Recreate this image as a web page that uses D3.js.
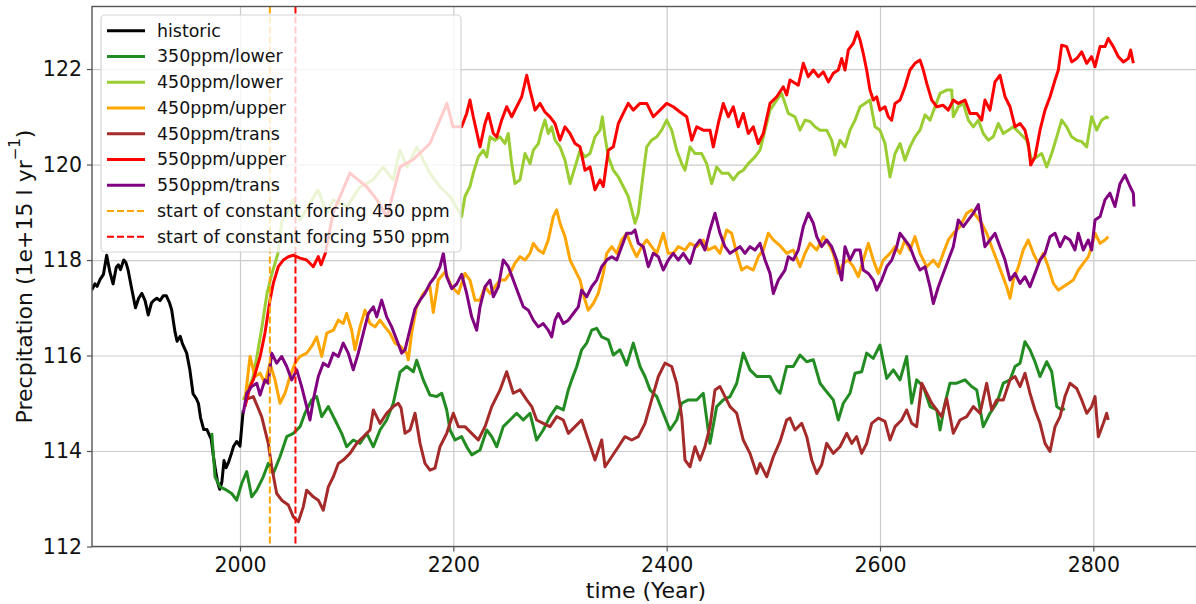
<!DOCTYPE html>
<html>
<head>
<meta charset="utf-8">
<script src="https://cdn.jsdelivr.net/npm/d3@7"></script>
<style>
  body { margin: 0; background: #fff; }
  svg { font-family: "DejaVu Sans", sans-serif; display: block; }
</style>
</head>
<body>
<div class="chart"></div>
<script>
// Series names and colours (legend order).
const seriesNames = ["historic", "350ppm/lower", "450ppm/lower", "450ppm/upper", "450ppm/trans", "550ppm/upper", "550ppm/trans"];
const seriesColors = ["black", "forestgreen", "yellowgreen", "orange", "brown", "red", "purple"];

// Vertical marker lines.
const forcingYears = [2028, 2052];
const forcingLabels = ["start of constant forcing 450 ppm", "start of constant forcing 550 ppm"];
const forcingColors = ["orange", "red"];

const xTicks = [2000, 2200, 2400, 2600, 2800];
const yTicks = [112, 114, 116, 118, 120, 122];

// [year, precipitation].
const historic = [
  [1861, 117.37], [1864, 117.5], [1866, 117.45], [1869, 117.6], [1872, 117.7], [1875, 118.1],
  [1878, 117.75], [1881, 117.5], [1884, 117.85], [1886, 117.9], [1888, 117.8], [1891, 118.0],
  [1893, 117.95], [1895, 117.8], [1898, 117.45], [1902, 117.0], [1905, 117.2], [1908, 117.3],
  [1911, 117.15], [1914, 116.85], [1917, 117.1], [1919, 117.15], [1922, 117.2], [1925, 117.15],
  [1928, 117.25], [1931, 117.25], [1934, 117.1], [1936, 116.95], [1939, 116.5], [1941, 116.3],
  [1944, 116.4], [1946, 116.25], [1948, 116.15], [1950, 116.05], [1953, 115.7], [1956, 115.2],
  [1959, 115.1], [1961, 115.0], [1963, 114.7], [1966, 114.45], [1969, 114.45], [1971, 114.35],
  [1973, 114.25], [1975, 113.9], [1977, 113.6], [1979, 113.35], [1981, 113.2], [1983, 113.35],
  [1985, 113.8], [1987, 113.65], [1989, 113.75], [1992, 113.95], [1994, 114.1], [1997, 114.2],
  [2000, 114.1], [2003, 114.85]
];

const ppm350lower = [
  [1973.5, 114.38], [1976.6, 113.46], [1981.3, 113.25], [1987.5, 113.18], [1992.2, 113.11], [1996.9, 112.97],
  [2001.6, 113.32], [2006.3, 113.57], [2011, 113.04], [2015.7, 113.18], [2021.8, 113.46], [2026.5, 113.74],
  [2031.2, 113.53], [2037.5, 113.88], [2043.8, 114.3], [2050, 114.37], [2056.3, 114.51], [2060.9, 114.79],
  [2067.2, 115.07], [2071.9, 115.14], [2076.6, 114.72], [2082.8, 114.93], [2089.1, 114.65], [2095.3, 114.37],
  [2100, 114.09], [2106.2, 114.23], [2112.5, 114.16], [2118.8, 114.37], [2125, 114.09], [2131.3, 114.44],
  [2137.5, 114.65], [2143.7, 115.0], [2150, 115.65], [2156.3, 115.77], [2162.5, 115.66], [2165.6, 115.9],
  [2171.8, 115.49], [2178.1, 115.17], [2184.4, 115.14], [2189.1, 115.21], [2193.8, 114.86], [2196.9, 114.44],
  [2201.6, 114.23], [2207.8, 114.3], [2212.5, 114.09], [2217.2, 113.92], [2225, 114.02], [2231.3, 114.44],
  [2236, 114.3], [2240.7, 114.09], [2246.8, 114.51], [2253.1, 114.65], [2259.4, 114.79], [2265.6, 114.65],
  [2271.9, 114.79], [2278.1, 114.23], [2284.3, 114.44], [2290.6, 114.72], [2296.9, 114.93], [2303.1, 114.86],
  [2307.8, 115.28], [2311, 115.49], [2315.7, 115.77], [2320.3, 116.12], [2325, 116.26], [2329.7, 116.53],
  [2334.4, 116.57], [2339.1, 116.39], [2345.3, 116.33], [2350, 116.01], [2356.3, 116.12], [2362.5, 115.8],
  [2368.7, 116.26], [2375, 115.77], [2379.7, 115.56], [2384.4, 115.28], [2390.7, 115.14], [2396.8, 114.79],
  [2403.1, 114.44], [2409.4, 114.65], [2414.1, 115.0], [2420.3, 115.07], [2428.2, 115.07], [2434.3, 115.21],
  [2440.6, 114.16], [2446.9, 114.93], [2453.1, 115.07], [2459.4, 115.14], [2465.7, 115.42], [2471.8, 116.05],
  [2478.1, 115.7], [2484.4, 115.56], [2490.6, 115.56], [2496.9, 115.56], [2503.2, 115.28], [2506.3, 115.21],
  [2512.5, 115.77], [2518.7, 115.77], [2525, 116.01], [2531.3, 115.87], [2537.5, 115.91], [2543.8, 115.42],
  [2550, 115.24], [2556.2, 115.07], [2560.9, 114.65], [2565.6, 115.0], [2571.9, 115.21], [2576.6, 115.63],
  [2582.8, 115.66], [2587.5, 116.05], [2593.7, 115.94], [2600, 116.22], [2606.3, 115.52], [2612.5, 115.7],
  [2618.8, 115.49], [2625, 115.98], [2629.7, 115.0], [2634.4, 115.49], [2640.6, 115.35], [2646.9, 114.93],
  [2653.2, 114.86], [2656.3, 114.44], [2660.9, 115.0], [2665.6, 115.42], [2671.9, 115.42], [2679.7, 115.49],
  [2685.9, 115.35], [2690.7, 115.28], [2696.8, 114.51], [2703.1, 114.79], [2709.4, 115.0], [2715.6, 115.42],
  [2721.9, 115.49], [2726.6, 115.77], [2731.3, 115.84], [2735.9, 116.29], [2740.6, 116.12], [2745.3, 115.87],
  [2750, 115.56], [2756.3, 115.87], [2761, 115.66], [2765.7, 114.93], [2770.3, 114.86], [2773.4, 114.89]
];

const ppm450lower = [
  [2003, 115.07], [2008, 115.3], [2012.2, 115.55], [2016, 116.0], [2020.6, 116.6], [2025.3, 117.3],
  [2030, 117.72], [2035.6, 118.14], [2039.4, 118.84], [2044, 118.98], [2049.7, 119.26], [2056.3, 118.84],
  [2065.6, 119.19], [2073.1, 119.47], [2081.6, 118.98], [2087.2, 119.26], [2100.3, 119.12], [2112.5, 119.53],
  [2124.7, 119.68], [2134.1, 119.95], [2143.4, 119.68], [2150, 120.3], [2156.6, 119.95], [2165.9, 120.37],
  [2171.6, 120.1], [2178.1, 119.82], [2187.5, 119.53], [2196.9, 119.33], [2203, 119.1], [2207.8, 118.91],
  [2210.9, 119.33], [2215.6, 119.54], [2218.7, 119.82], [2223.4, 120.16], [2228.1, 120.3], [2231.3, 120.16],
  [2234.4, 120.58], [2239.1, 120.51], [2243.8, 120.58], [2248.4, 120.44], [2251.5, 120.65], [2254.7, 120.02],
  [2257.8, 119.6], [2262.5, 119.68], [2267.2, 120.23], [2271.9, 120.02], [2275, 120.3], [2279.7, 120.44],
  [2282.8, 120.72], [2285.9, 120.93], [2289, 120.65], [2292.2, 120.79], [2295.3, 120.51], [2300, 120.37],
  [2304.7, 120.09], [2309.4, 119.6], [2314.1, 119.95], [2318.8, 120.3], [2323.4, 120.16], [2328.1, 120.23],
  [2332.8, 120.58], [2337.5, 120.72], [2339.7, 121.0], [2342.2, 120.58], [2345.3, 120.16], [2350, 119.88],
  [2354.7, 119.74], [2359.3, 119.54], [2364, 119.33], [2367.2, 119.05], [2370.3, 118.77], [2373.4, 118.98],
  [2378.1, 119.82], [2381.3, 120.37], [2385.9, 120.51], [2390.7, 120.58], [2395.3, 120.72], [2400, 120.93],
  [2404.7, 120.72], [2409.4, 120.3], [2414.1, 120.02], [2417.2, 119.88], [2421.9, 120.37], [2426.6, 120.23],
  [2432.8, 120.23], [2437.5, 120.02], [2442.2, 119.6], [2446.9, 119.95], [2451.6, 119.82], [2457.8, 119.82],
  [2462.5, 119.68], [2467.2, 119.82], [2471.8, 119.88], [2476.5, 120.02], [2482.8, 120.16], [2487.5, 120.3],
  [2492.2, 120.72], [2496.9, 121.14], [2503.2, 121.35], [2507.8, 121.49], [2514.1, 121.07], [2520.3, 121.0],
  [2525, 120.72], [2529.7, 120.93], [2534.4, 120.9], [2539.1, 120.79], [2543.8, 120.72], [2550, 120.72],
  [2554.7, 120.51], [2557.8, 120.2], [2562.5, 120.51], [2567.2, 120.37], [2571.9, 120.72], [2576.6, 120.93],
  [2581.3, 121.21], [2585.9, 121.28], [2590.6, 121.35], [2595.3, 120.79], [2600, 120.72], [2604.7, 120.44],
  [2609.4, 119.74], [2614.1, 120.23], [2618.8, 120.44], [2623.4, 120.09], [2628.1, 120.37], [2632.8, 120.58],
  [2637.5, 120.72], [2642.2, 121.04], [2646.9, 120.93], [2651.6, 121.21], [2656.3, 121.49], [2662.5, 121.56],
  [2667.2, 121.56], [2668.7, 121.0], [2673.4, 121.21], [2678.1, 121.28], [2682.8, 120.93], [2687.5, 120.79],
  [2692.2, 120.93], [2696.8, 120.65], [2701.5, 120.51], [2706.2, 120.58], [2710.9, 120.86], [2715.6, 120.65],
  [2720.3, 120.72], [2725, 120.79], [2731.3, 120.65], [2737.5, 120.51], [2742.2, 120.09], [2746.9, 120.16],
  [2751.6, 120.23], [2756.3, 119.95], [2761, 120.23], [2765.7, 120.58], [2770.3, 120.93], [2775, 120.79],
  [2779.7, 120.58], [2784.4, 120.51], [2789.1, 120.48], [2793.8, 120.37], [2798.4, 121.0], [2803.2, 120.72],
  [2807.8, 120.93], [2812.5, 121.0], [2814, 120.96]
];

const ppm450upper = [
  [2004.7, 115.07], [2009.4, 115.98], [2014.1, 115.56], [2018.8, 115.63], [2023.4, 115.42], [2028.1, 115.84],
  [2032.8, 115.49], [2037.5, 115.0], [2042.2, 115.21], [2046.9, 115.56], [2051.6, 115.84], [2056.3, 115.98],
  [2062.5, 116.05], [2067.2, 116.19], [2071.9, 116.39], [2076.6, 115.98], [2081.3, 116.47], [2087.5, 116.53],
  [2092.2, 116.74], [2096.8, 116.67], [2100, 116.88], [2104.7, 116.53], [2107.8, 116.12], [2112.5, 116.6],
  [2117.2, 116.95], [2121.9, 116.67], [2126.6, 116.6], [2131.3, 116.74], [2135.9, 116.6], [2140.6, 116.47],
  [2145.3, 116.26], [2150, 116.2], [2156.3, 116.05], [2157.8, 115.91], [2160.9, 116.47], [2165.6, 117.02],
  [2171.8, 117.3], [2178.1, 117.44], [2181.2, 116.9], [2185.9, 117.58], [2192.2, 117.75], [2198.5, 117.44],
  [2204.7, 117.3], [2210.9, 117.72], [2215.6, 117.58], [2220.3, 117.16], [2225, 117.16], [2229.7, 117.44],
  [2234.4, 117.3], [2239.1, 117.44], [2243.8, 117.58], [2248.4, 117.58], [2253.1, 117.72], [2257.7, 117.93],
  [2262.5, 118.07], [2267.2, 118.0], [2271.9, 118.14], [2275, 118.35], [2279.7, 118.21], [2284.3, 118.14],
  [2289, 118.42], [2293.7, 118.91], [2296.9, 119.05], [2300, 118.77], [2304.7, 118.49], [2309.4, 118.0],
  [2314.1, 117.79], [2318.8, 117.58], [2323.4, 117.16], [2326.5, 116.95], [2331.2, 117.09], [2335.9, 117.3],
  [2340.6, 117.72], [2343.8, 118.14], [2348.5, 118.28], [2353.2, 118.14], [2357.8, 118.42], [2362.5, 118.56],
  [2367.2, 118.28], [2371.9, 118.07], [2376.6, 118.28], [2381.3, 118.42], [2385.9, 118.28], [2390.7, 118.14],
  [2396.8, 118.56], [2401.5, 118.14], [2406.2, 118.14], [2410.9, 118.28], [2417.2, 118.21], [2421.9, 118.35],
  [2428.2, 118.28], [2434.3, 118.42], [2439, 118.21], [2445.3, 118.28], [2450, 118.14], [2456.3, 118.63],
  [2460.9, 118.56], [2465.7, 118.14], [2470.3, 117.79], [2475, 117.86], [2481.2, 117.79], [2485.9, 118.07],
  [2490.6, 118.21], [2495.3, 118.56], [2500, 118.42], [2506.3, 118.3], [2512.5, 118.14], [2518.7, 118.21],
  [2525, 117.86], [2529.7, 118.14], [2534.4, 118.35], [2540.7, 118.21], [2546.9, 118.49], [2551.6, 118.35],
  [2556.2, 118.14], [2560.9, 117.72], [2565.6, 117.93], [2570.3, 118.0], [2575, 117.86], [2579.7, 117.65],
  [2584.3, 118.0], [2589.1, 118.35], [2593.7, 118.0], [2598.4, 117.72], [2603.1, 118.0], [2609.4, 118.14],
  [2614.1, 118.28], [2618.8, 118.14], [2623.4, 118.42], [2628.1, 118.21], [2632.8, 118.49], [2637.5, 118.14],
  [2643.8, 117.86], [2650, 118.0], [2654.7, 117.86], [2659.3, 118.14], [2664, 118.42], [2668.7, 118.56],
  [2675, 118.7], [2681.3, 118.98], [2685.9, 119.05], [2690.7, 118.91], [2695.3, 118.77], [2700, 118.56],
  [2704.7, 118.28], [2709.4, 118.0], [2714.1, 117.72], [2718.8, 117.44], [2721.9, 117.2], [2725, 117.58],
  [2729.7, 117.86], [2734.3, 118.21], [2739, 118.42], [2743.7, 118.14], [2748.4, 117.93], [2753.1, 118.14],
  [2757.8, 117.86], [2762.5, 117.51], [2767.2, 117.37], [2771.8, 117.44], [2776.5, 117.51], [2781.2, 117.58],
  [2785.9, 117.79], [2790.6, 117.93], [2795.3, 118.07], [2798.4, 118.28], [2801.6, 118.56], [2806.3, 118.35],
  [2810.9, 118.42], [2814, 118.49]
];

const ppm450trans = [
  [2004.7, 115.07], [2012.5, 115.14], [2020.3, 114.72], [2026.5, 114.16], [2029.7, 113.67], [2034.4, 113.11],
  [2039.1, 112.97], [2045.3, 112.87], [2050, 112.62], [2054.7, 112.52], [2059.3, 112.83], [2062.5, 113.18],
  [2068.7, 113.04], [2073.4, 112.97], [2078.1, 112.76], [2082.8, 113.25], [2087.5, 113.46], [2092.2, 113.74],
  [2096.8, 113.81], [2103.1, 113.95], [2109.4, 114.16], [2115.6, 114.3], [2121.9, 114.44], [2125, 114.86],
  [2131.3, 114.58], [2137.5, 114.79], [2143.7, 114.93], [2148.4, 115.0], [2151, 114.9], [2154.7, 114.37],
  [2159.4, 114.44], [2164.1, 114.79], [2168.8, 114.16], [2173.4, 113.74], [2178.1, 113.6], [2182.8, 113.64],
  [2187.5, 114.09], [2193.8, 114.37], [2200, 114.79], [2204.7, 114.51], [2210.9, 114.51], [2217.2, 114.37],
  [2223.4, 114.23], [2229.7, 114.51], [2236, 114.93], [2243.8, 115.28], [2250, 115.66], [2256.2, 115.21],
  [2262.5, 115.28], [2268.8, 115.07], [2273.5, 114.93], [2278.1, 114.65], [2284.3, 114.58], [2290.6, 114.51],
  [2296.9, 114.72], [2303.1, 114.65], [2307.8, 114.37], [2314.1, 114.51], [2320.3, 114.65], [2326.5, 114.23],
  [2332.8, 113.81], [2339.1, 114.23], [2342.2, 113.67], [2348.5, 113.88], [2354.7, 114.09], [2360.9, 114.3],
  [2367.2, 114.23], [2373.4, 114.3], [2379.7, 114.58], [2385.9, 115.07], [2392.2, 115.56], [2398.4, 115.84],
  [2404.7, 115.77], [2409.4, 115.42], [2414.1, 114.72], [2417.2, 113.81], [2421.9, 113.67], [2426.6, 114.09],
  [2431.3, 113.81], [2435.9, 114.09], [2440.6, 114.51], [2445.3, 115.28], [2450, 115.35], [2454.7, 115.14],
  [2459.4, 114.93], [2465.7, 114.79], [2471.8, 114.23], [2478.1, 113.95], [2484.4, 113.53], [2487.5, 113.74],
  [2493.8, 113.46], [2500, 113.88], [2506.3, 114.2], [2512.5, 114.65], [2515.6, 114.69], [2520.3, 114.44],
  [2526.6, 114.58], [2531.3, 114.3], [2536, 113.81], [2540.7, 113.53], [2545.3, 113.71], [2550, 114.16],
  [2556.2, 113.95], [2562.5, 114.09], [2568.8, 114.37], [2573.5, 114.16], [2578.1, 114.3], [2582.8, 113.95],
  [2587.5, 114.16], [2592.2, 114.58], [2598.4, 114.69], [2604.7, 114.62], [2609.4, 114.23], [2614.1, 114.51],
  [2620.3, 114.65], [2625, 114.86], [2629.7, 114.58], [2634.4, 114.51], [2639.1, 115.42], [2643.8, 115.21],
  [2648.5, 115.0], [2653.2, 114.86], [2657.8, 114.72], [2662.5, 115.1], [2668.7, 114.37], [2675, 114.65],
  [2681.3, 114.72], [2687.5, 114.93], [2693.8, 114.79], [2700, 115.42], [2704.7, 114.86], [2709.4, 115.07],
  [2715.6, 115.07], [2721.9, 115.49], [2726.6, 115.56], [2731.3, 115.35], [2735.9, 115.63], [2740.6, 115.21],
  [2745.3, 114.86], [2750, 114.58], [2754.7, 114.16], [2759.4, 113.99], [2764.1, 114.51], [2768.8, 114.72],
  [2773.4, 115.14], [2778.1, 115.42], [2784.4, 115.31], [2789.1, 115.07], [2793.8, 114.79], [2798.4, 114.93],
  [2801.6, 115.14], [2804.7, 114.3], [2809.4, 114.58], [2812.5, 114.79], [2814, 114.65]
];

const ppm550upper = [
  [2004.7, 114.93], [2009.4, 115.35], [2012.5, 115.49], [2018.8, 115.97], [2023.4, 116.47], [2028.1, 117.16],
  [2031.2, 117.51], [2035.9, 117.86], [2040.6, 118.0], [2045.3, 118.07], [2050, 118.1], [2056.3, 118.04],
  [2062.5, 118.0], [2068.7, 117.86], [2073.4, 118.07], [2076, 117.9], [2080, 118.14], [2087.2, 118.98],
  [2103.1, 119.82], [2119, 119.53], [2128.4, 119.26], [2137.8, 118.9], [2150, 119.95], [2162.2, 120.1],
  [2178.1, 120.44], [2194, 121.28], [2199.7, 120.79], [2207.8, 120.79], [2212.5, 121.07], [2215.6, 121.35],
  [2218.7, 121.0], [2225, 120.37], [2229.7, 120.86], [2232.8, 121.07], [2237.5, 120.65], [2240.7, 120.58],
  [2245.3, 120.93], [2250, 121.21], [2254.7, 121.0], [2259.4, 121.21], [2264.1, 121.42], [2268.8, 121.87],
  [2271.9, 121.56], [2276.6, 121.14], [2281.3, 121.28], [2285.9, 121.1], [2290.6, 121.0], [2295.3, 120.86],
  [2300, 120.51], [2304.7, 120.79], [2309.4, 120.65], [2314.1, 120.44], [2318.8, 120.37], [2323.4, 119.88],
  [2328.1, 119.95], [2332.8, 119.47], [2337.5, 119.68], [2340.6, 119.54], [2345.3, 120.3], [2350, 120.37],
  [2354.7, 120.86], [2359.3, 121.07], [2364, 121.28], [2368.7, 121.14], [2375, 121.28], [2381.3, 121.28],
  [2387.5, 121.0], [2393.8, 121.14], [2400, 121.28], [2406.2, 121.21], [2412.5, 121.1], [2418.8, 121.0],
  [2423.5, 120.51], [2428.2, 120.79], [2434.3, 120.72], [2440.6, 120.72], [2443.7, 120.37], [2448.4, 120.86],
  [2453.1, 121.28], [2457.8, 121.0], [2462.5, 121.21], [2467.2, 120.79], [2471.8, 121.07], [2476.5, 120.65],
  [2481.2, 120.79], [2485.9, 120.44], [2490.6, 120.65], [2496.9, 121.28], [2503.2, 121.42], [2509.3, 121.63],
  [2512.5, 121.46], [2515.6, 121.77], [2523.4, 121.66], [2528.1, 122.12], [2532.8, 121.84], [2537.5, 121.98],
  [2542.2, 121.84], [2546.9, 121.94], [2551.6, 121.73], [2556.2, 121.91], [2560.9, 121.98], [2564.1, 122.22],
  [2567.2, 121.98], [2570.3, 122.4], [2575, 122.54], [2578.7, 122.78], [2581.3, 122.61], [2584.3, 122.33],
  [2587.5, 121.98], [2590.6, 121.56], [2593.7, 121.35], [2596.9, 121.42], [2600, 121.14], [2604.7, 121.21],
  [2607.8, 121.0], [2610.9, 120.93], [2614.1, 121.28], [2618.8, 121.35], [2623.4, 121.63], [2628.1, 121.98],
  [2632.8, 122.12], [2637.5, 122.19], [2640.6, 121.98], [2643.8, 121.7], [2648.5, 121.35], [2653.2, 121.21],
  [2659.3, 121.24], [2664, 121.14], [2668.7, 121.35], [2673.4, 121.28], [2679.7, 121.35], [2684.4, 121.07],
  [2690.7, 121.07], [2695.3, 120.93], [2698.4, 121.35], [2703.1, 121.14], [2707.8, 121.73], [2712.5, 121.87],
  [2717.2, 121.42], [2721.9, 121.21], [2726.6, 120.79], [2731.3, 120.86], [2735.9, 120.72], [2739, 120.44],
  [2741.3, 119.99], [2745.3, 120.16], [2750, 120.72], [2754.7, 121.14], [2759.4, 121.42], [2764.1, 121.77],
  [2767.2, 121.98], [2770.3, 122.5], [2775, 122.47], [2779.7, 122.15], [2784.4, 122.22], [2789.1, 122.36],
  [2793.8, 122.12], [2798.4, 122.26], [2801.6, 122.05], [2806.3, 122.47], [2810.9, 122.47], [2814, 122.64],
  [2818.7, 122.47], [2823.4, 122.26], [2828.1, 122.15], [2832.8, 122.22], [2835, 122.4], [2837.5, 122.12]
];

const ppm550trans = [
  [2003.1, 114.79], [2006.3, 115.21], [2011, 115.35], [2015.7, 115.42], [2018.8, 115.17], [2023.4, 115.49],
  [2026.5, 115.42], [2029.7, 116.05], [2034.4, 115.84], [2039.1, 115.98], [2043.8, 115.77], [2048.5, 115.49],
  [2053.2, 115.7], [2057.8, 115.35], [2062.5, 114.93], [2065.6, 114.65], [2068.7, 115.07], [2073.4, 115.56],
  [2078.1, 115.84], [2082.8, 115.77], [2087.5, 116.05], [2092.2, 115.98], [2096.8, 116.26], [2101.5, 116.05],
  [2106.2, 115.7], [2110.9, 116.05], [2115.6, 116.47], [2120.3, 116.88], [2125, 117.02], [2128.2, 116.81],
  [2132.8, 117.16], [2137.5, 116.81], [2142.2, 116.6], [2146.9, 116.33], [2151.6, 116.05], [2154.7, 116.12],
  [2159.4, 116.55], [2164.1, 116.98], [2168.8, 117.16], [2173.4, 117.3], [2178.1, 117.51], [2182.8, 117.65],
  [2187.5, 117.86], [2190.6, 118.14], [2193.8, 117.65], [2198.5, 117.4], [2203.2, 117.5], [2207.8, 117.7],
  [2212.5, 117.3], [2217.2, 116.81], [2221.9, 116.53], [2225, 117.02], [2229.7, 117.44], [2234.4, 117.58],
  [2237.5, 117.23], [2242.2, 117.44], [2246.8, 118.0], [2251.6, 117.86], [2256.2, 117.58], [2260.9, 117.3],
  [2265.6, 117.02], [2270.3, 116.95], [2275, 116.74], [2279.7, 116.6], [2284.3, 116.67], [2289, 116.53],
  [2292.2, 116.39], [2295.3, 116.74], [2298.4, 116.88], [2303.1, 116.67], [2307.8, 116.74], [2312.5, 116.88],
  [2317.2, 117.02], [2320.3, 117.37], [2325, 117.23], [2329.7, 117.44], [2334.4, 117.58], [2339.1, 117.86],
  [2343.8, 118.0], [2348.5, 118.07], [2353.2, 118.0], [2357.8, 118.28], [2362.5, 118.56], [2367.2, 118.56],
  [2370.3, 118.63], [2373.4, 118.35], [2378.1, 118.28], [2382.8, 117.86], [2387.5, 118.14], [2392.2, 118.07],
  [2396.8, 117.79], [2401.5, 118.0], [2406.2, 118.14], [2410.9, 118.0], [2415.6, 118.14], [2421.9, 117.93],
  [2426.6, 118.28], [2431.3, 118.42], [2435.9, 118.21], [2440.6, 118.63], [2445.3, 118.98], [2450, 118.56],
  [2454.7, 118.28], [2459.4, 118.14], [2464.1, 118.21], [2468.8, 118.28], [2473.4, 118.14], [2478.1, 118.28],
  [2482.8, 118.21], [2487.5, 118.35], [2492.2, 118.0], [2496.9, 117.72], [2500, 117.3], [2504.7, 117.58],
  [2510.9, 117.79], [2514.1, 118.07], [2518.7, 118.0], [2523.4, 118.21], [2528.1, 118.7], [2532.8, 118.98],
  [2537.5, 118.77], [2540.7, 118.49], [2545.3, 118.28], [2550, 118.42], [2554.7, 118.28], [2559.4, 118.0],
  [2564.1, 117.58], [2567.2, 118.28], [2571.9, 118.0], [2576.6, 118.21], [2581.3, 118.21], [2584.3, 117.79],
  [2589.1, 117.72], [2593.7, 117.58], [2596.9, 117.37], [2601.6, 117.58], [2606.3, 117.86], [2611, 118.0],
  [2615.7, 118.28], [2618.8, 118.56], [2623.4, 118.42], [2628.1, 118.28], [2632.8, 118.0], [2637.5, 117.79],
  [2642.2, 117.86], [2646.9, 117.44], [2650, 117.09], [2654.7, 117.44], [2659.3, 117.72], [2664, 118.0],
  [2668.7, 118.28], [2673.4, 118.84], [2678.1, 118.7], [2682.8, 118.84], [2687.5, 118.98], [2692.2, 119.16],
  [2695.3, 118.7], [2698.4, 118.28], [2703.1, 118.42], [2707.8, 118.56], [2712.5, 118.28], [2717.2, 118.0],
  [2721.9, 117.58], [2726.6, 117.72], [2731.3, 117.51], [2735.9, 117.65], [2740.6, 117.44], [2745.3, 117.72],
  [2750, 118.0], [2754.7, 118.14], [2759.4, 118.49], [2764.1, 118.56], [2768.8, 118.28], [2773.4, 118.49],
  [2778.1, 118.42], [2782.8, 118.21], [2785.9, 118.56], [2790.6, 118.21], [2795.3, 118.42], [2798.4, 118.21],
  [2801.6, 118.84], [2806.3, 118.91], [2810.9, 119.26], [2815.6, 119.4], [2820.3, 119.12], [2825, 119.6],
  [2829.7, 119.78], [2834.4, 119.54], [2837.5, 119.4], [2838.1, 119.12]
];

const seriesData = [historic, ppm350lower, ppm450lower, ppm450upper, ppm450trans, ppm550upper, ppm550trans];

// Margin convention (plot area runs a little past the right edge).
const W = 1196, H = 604;
const plot = { left: 92, right: 1200, top: 6.5, bottom: 546.5 };

const svg = d3
  .select(".chart")
  .append("svg")
  .attr("width", W)
  .attr("height", H);

svg.append("defs")
  .append("clipPath")
  .attr("id", "plot-clip")
  .append("rect")
  .attr("x", plot.left)
  .attr("y", plot.top)
  .attr("width", plot.right - plot.left)
  .attr("height", plot.bottom - plot.top);

// Scales.
const xScale = d3.scaleLinear().domain([1861.25, 2900]).range([plot.left, plot.right]);
const yScale = d3.scaleLinear().domain([112, 123.31]).range([plot.bottom, plot.top]);

// Grid.
svg.append("g")
  .attr("class", "grid x")
  .attr("transform", `translate(0, ${plot.bottom})`)
  .call(d3.axisBottom(xScale).tickValues(xTicks).tickSize(-(plot.bottom - plot.top)).tickFormat(""))
  .call((g) => g.select(".domain").remove())
  .selectAll("line")
  .attr("stroke", "#cbcbcb")
  .attr("stroke-width", 1.2);

svg.append("g")
  .attr("class", "grid y")
  .attr("transform", `translate(${plot.left}, 0)`)
  .call(d3.axisLeft(yScale).tickValues(yTicks).tickSize(-(plot.right - plot.left)).tickFormat(""))
  .call((g) => g.select(".domain").remove())
  .selectAll("line")
  .attr("stroke", "#cbcbcb")
  .attr("stroke-width", 1.2);

// Line generator.
const lineGen = d3
  .line()
  .x((d) => xScale(d[0]))
  .y((d) => yScale(d[1]));

// Draw lines.
svg.append("g")
  .attr("class", "line-chart")
  .attr("clip-path", "url(#plot-clip)")
  .selectAll(".line-series")
  .data(seriesData)
  .enter()
  .append("path")
  .attr("class", "line-series")
  .attr("d", (d) => lineGen(d))
  .style("fill", "none")
  .style("stroke-width", 3)
  .style("stroke-linejoin", "round")
  .style("stroke", (d, i) => seriesColors[i]);

// Forcing start markers.
svg.append("g")
  .attr("class", "forcing")
  .selectAll("line")
  .data(forcingYears)
  .enter()
  .append("line")
  .attr("x1", (d) => xScale(d))
  .attr("x2", (d) => xScale(d))
  .attr("y1", plot.top)
  .attr("y2", plot.bottom)
  .attr("stroke", (d, i) => forcingColors[i])
  .attr("stroke-width", 2)
  .attr("stroke-dasharray", "7,3");

// Axes.
const xAxis = d3.axisBottom(xScale)
  .tickValues(xTicks)
  .tickFormat(d3.format("d"))
  .tickSize(5)
  .tickPadding(6)
  .tickSizeOuter(0);
const xAxisDraw = svg.append("g")
  .attr("class", "x axis")
  .attr("transform", `translate(0, ${plot.bottom})`)
  .call(xAxis);

const yAxis = d3.axisLeft(yScale)
  .tickValues(yTicks)
  .tickFormat(d3.format("d"))
  .tickSize(5)
  .tickPadding(5)
  .tickSizeOuter(0);
const yAxisDraw = svg.append("g")
  .attr("class", "y axis")
  .attr("transform", `translate(${plot.left}, 0)`)
  .call(yAxis);

[xAxisDraw, yAxisDraw].forEach((g) => {
  g.select(".domain").remove();
  g.selectAll("line").attr("stroke", "#555").attr("stroke-width", 1.2);
  g.selectAll("text")
    .attr("fill", "#111")
    .style("font-family", "DejaVu Sans")
    .style("font-size", "20.5px");
});

// Spines.
svg.append("rect")
  .attr("x", plot.left)
  .attr("y", plot.top)
  .attr("width", plot.right - plot.left)
  .attr("height", plot.bottom - plot.top)
  .attr("fill", "none")
  .attr("stroke", "#555")
  .attr("stroke-width", 1.4);

// Axis labels.
svg.append("text")
  .attr("x", (plot.left + plot.right) / 2)
  .attr("y", 590)
  .attr("text-anchor", "middle")
  .attr("dominant-baseline", "central")
  .style("font-size", "22px")
  .attr("fill", "#111")
  .text("time (Year)");

const yLabel = svg.append("text")
  .attr("transform", `translate(24, ${(plot.top + plot.bottom) / 2}) rotate(-90)`)
  .attr("text-anchor", "middle")
  .attr("dominant-baseline", "central")
  .style("font-size", "22px")
  .attr("fill", "#111");
yLabel.append("tspan").text("Precpitation (1e+15 l yr");
yLabel.append("tspan").attr("dy", -9).style("font-size", "15px").text("\u22121");
yLabel.append("tspan").attr("dy", 9).text(")");

// Legend.
const legendItems = seriesNames.map((n, i) => ({ name: n, color: seriesColors[i], dash: null }))
  .concat(forcingLabels.map((n, i) => ({ name: n, color: forcingColors[i], dash: "7,3" })));

const legend = svg.append("g").attr("class", "legend");
legend.append("rect")
  .attr("x", 101)
  .attr("y", 15)
  .attr("width", 360)
  .attr("height", 237)
  .attr("rx", 4)
  .attr("fill", "white")
  .attr("fill-opacity", 0.8)
  .attr("stroke", "#d4d4d4")
  .attr("stroke-width", 1.2);

const rows = legend.selectAll(".legend-row")
  .data(legendItems)
  .enter()
  .append("g")
  .attr("class", "legend-row")
  .attr("transform", (d, i) => `translate(0, ${30.7 + i * 25.75})`);

rows.append("line")
  .attr("x1", 107)
  .attr("x2", 145)
  .attr("stroke", (d) => d.color)
  .attr("stroke-width", (d) => (d.dash ? 2 : 3))
  .attr("stroke-dasharray", (d) => d.dash);

rows.append("text")
  .attr("x", 157)
  .attr("dominant-baseline", "central")
  .style("font-size", "17.4px")
  .attr("fill", "#111")
  .text((d) => d.name);
</script>
</body>
</html>
